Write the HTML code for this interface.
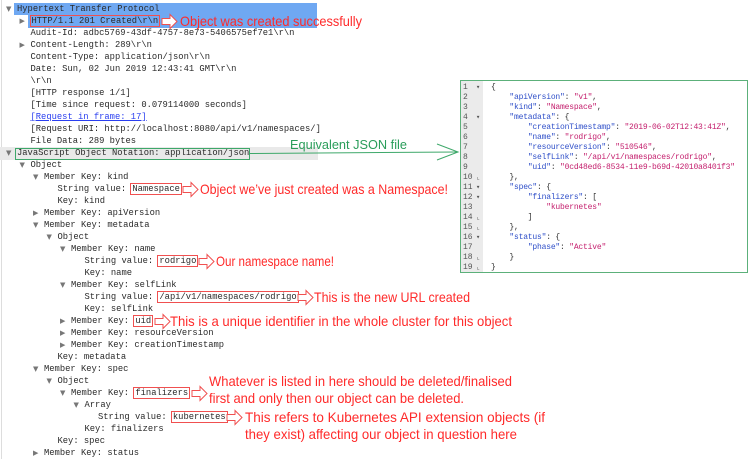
<!DOCTYPE html>
<html><head><meta charset="utf-8"><style>
html,body{margin:0;padding:0;background:#fff;width:750px;height:459px;overflow:hidden;position:relative}
.t{position:absolute;font:8.8px/12px "Liberation Mono",monospace;color:#2a2a2a;white-space:pre}
.b{outline:1px solid #f05050;outline-offset:0px;padding:0 1px}
.tri{position:absolute;font:7px/12px "DejaVu Sans",sans-serif;color:#777}
.j{position:absolute;font:8px/10px "Liberation Mono",monospace;white-space:pre;color:#333}
.n{position:absolute;font:8px/10px "Liberation Mono",monospace;color:#555}
.k{color:#2f4fc8}.s{color:#c4206e}
</style></head><body>
<div style="position:absolute;left:1px;top:0;width:1px;height:459px;background:#ddd"></div>
<div style="position:absolute;left:14px;top:3px;width:303px;height:12px;background:#6fa8f2"></div>
<div style="position:absolute;left:28px;top:15px;width:289px;height:13px;background:#6fa8f2"></div>
<div style="position:absolute;left:0;top:147px;width:318px;height:13px;background:#e9e9e9"></div>

<div id="tree"></div>
<script>
var L=[
[0,'d',"Hypertext Transfer Protocol"],
[1,'r',"<span class=b>HTTP/1.1 201 Created\\r\\n</span>"],
[1,'',"Audit-Id: adbc5769-43df-4757-8e73-5406575ef7e1\\r\\n"],
[1,'r',"Content-Length: 289\\r\\n"],
[1,'',"Content-Type: application/json\\r\\n"],
[1,'',"Date: Sun, 02 Jun 2019 12:43:41 GMT\\r\\n"],
[1,'',"\\r\\n"],
[1,'',"[HTTP response 1/1]"],
[1,'',"[Time since request: 0.079114000 seconds]"],
[1,'L',"[Request in frame: 17]"],
[1,'',"[Request URI: http://localhost:8080/api/v1/namespaces/]"],
[1,'',"File Data: 289 bytes"],
[0,'d',"JavaScript Object Notation: application/json"],
[1,'d',"Object"],
[2,'d',"Member Key: kind"],
[3,'',"String value: <span class=b>Namespace</span>"],
[3,'',"Key: kind"],
[2,'r',"Member Key: apiVersion"],
[2,'d',"Member Key: metadata"],
[3,'d',"Object"],
[4,'d',"Member Key: name"],
[5,'',"String value: <span class=b>rodrigo</span>"],
[5,'',"Key: name"],
[4,'d',"Member Key: selfLink"],
[5,'',"String value: <span class=b>/api/v1/namespaces/rodrigo</span>"],
[5,'',"Key: selfLink"],
[4,'r',"Member Key: <span class=b>uid</span>"],
[4,'r',"Member Key: resourceVersion"],
[4,'r',"Member Key: creationTimestamp"],
[3,'',"Key: metadata"],
[2,'d',"Member Key: spec"],
[3,'d',"Object"],
[4,'d',"Member Key: <span class=b>finalizers</span>"],
[5,'d',"Array"],
[6,'',"String value: <span class=b>kubernetes</span>"],
[5,'',"Key: finalizers"],
[3,'',"Key: spec"],
[2,'r',"Member Key: status"]];
var h='';
for(var i=0;i<L.length;i++){var x=17+L[i][0]*13.5,y=3.3+12*i;
if(L[i][1]=='d'||L[i][1]=='r')h+='<div class="tri" style="left:'+(x-11)+'px;top:'+y+'px">'+(L[i][1]=='d'?'▼':'▶')+'</div>';
var st=L[i][1]=='L'?'color:#2a3ff0;text-decoration:underline;':'';
h+='<div class="t" style="left:'+x+'px;top:'+y+'px;'+st+'">'+L[i][2]+'</div>';}
document.getElementById('tree').innerHTML=h;
</script>

<div style="position:absolute;left:460px;top:80px;width:286px;height:191px;border:1px solid #5cb07a;background:#fff"></div>
<div style="position:absolute;left:461px;top:81px;width:22px;height:191px;background:#ebebeb"></div>
<div id="js"></div>
<script>
var J=[
['▾',"{"],
['',"    <span class=k>\"apiVersion\"</span>: <span class=s>\"v1\"</span>,"],
['',"    <span class=k>\"kind\"</span>: <span class=s>\"Namespace\"</span>,"],
['▾',"    <span class=k>\"metadata\"</span>: {"],
['',"        <span class=k>\"creationTimestamp\"</span>: <span class=s>\"2019-06-02T12:43:41Z\"</span>,"],
['',"        <span class=k>\"name\"</span>: <span class=s>\"rodrigo\"</span>,"],
['',"        <span class=k>\"resourceVersion\"</span>: <span class=s>\"510546\"</span>,"],
['',"        <span class=k>\"selfLink\"</span>: <span class=s>\"/api/v1/namespaces/rodrigo\"</span>,"],
['',"        <span class=k>\"uid\"</span>: <span class=s>\"0cd48ed6-8534-11e9-b69d-42010a8401f3\"</span>"],
['⌞',"    },"],
['▾',"    <span class=k>\"spec\"</span>: {"],
['▾',"        <span class=k>\"finalizers\"</span>: ["],
['',"            <span class=s>\"kubernetes\"</span>"],
['⌞',"        ]"],
['⌞',"    },"],
['▾',"    <span class=k>\"status\"</span>: {"],
['',"        <span class=k>\"phase\"</span>: <span class=s>\"Active\"</span>"],
['⌞',"    }"],
['⌞',"}"]];
var g='';
for(var i=0;i<J.length;i++){var y=82.7+10*i;
g+='<div class="n" style="left:463px;top:'+y+'px">'+(i+1)+'</div>';
if(J[i][0])g+='<div class="n" style="left:476px;top:'+y+'px;font-size:7px">'+J[i][0]+'</div>';
g+='<div class="j" style="left:491px;top:'+y+'px;letter-spacing:-0.2px">'+J[i][1]+'</div>';}
document.getElementById('js').innerHTML=g;
</script>

<svg width="750" height="459" style="position:absolute;left:0;top:0" font-family="Liberation Sans, sans-serif">
<g fill="#fff" stroke="#f05050" stroke-width="1">
<path d="M0,-3 L8,-3 L8,-7 L15,0 L8,7 L8,3 L0,3 Z" transform="translate(162,21.5)"/>
<path d="M0,-3 L8,-3 L8,-7 L15,0 L8,7 L8,3 L0,3 Z" transform="translate(183,189.5)"/>
<path d="M0,-3 L8,-3 L8,-7 L15,0 L8,7 L8,3 L0,3 Z" transform="translate(199,261.5)"/>
<path d="M0,-3 L8,-3 L8,-7 L15,0 L8,7 L8,3 L0,3 Z" transform="translate(298,297.5)"/>
<path d="M0,-3 L8,-3 L8,-7 L15,0 L8,7 L8,3 L0,3 Z" transform="translate(155,321.5)"/>
<path d="M0,-3 L8,-3 L8,-7 L15,0 L8,7 L8,3 L0,3 Z" transform="translate(192,393.5)"/>
<path d="M0,-3 L8,-3 L8,-7 L15,0 L8,7 L8,3 L0,3 Z" transform="translate(227,417.5)"/>
</g>
<g fill="#ff2a2a" font-size="14">
<text x="180" y="26" textLength="182" lengthAdjust="spacingAndGlyphs">Object was created successfully</text>
<text x="200" y="194" textLength="248" lengthAdjust="spacingAndGlyphs">Object we’ve just created was a Namespace!</text>
<text x="216" y="266" textLength="118" lengthAdjust="spacingAndGlyphs">Our namespace name!</text>
<text x="314" y="302" textLength="156" lengthAdjust="spacingAndGlyphs">This is the new URL created</text>
<text x="170" y="326" textLength="342" lengthAdjust="spacingAndGlyphs">This is a unique identifier in the whole cluster for this object</text>
<text x="209" y="386" textLength="303" lengthAdjust="spacingAndGlyphs">Whatever is listed in here should be deleted/finalised</text>
<text x="209" y="403" textLength="255" lengthAdjust="spacingAndGlyphs">first and only then our object can be deleted.</text>
<text x="245" y="422" textLength="300" lengthAdjust="spacingAndGlyphs">This refers to Kubernetes API extension objects (if</text>
<text x="245" y="439" textLength="272" lengthAdjust="spacingAndGlyphs">they exist) affecting our object in question here</text>
</g>
<g stroke="#3ea86a" fill="none" stroke-width="1">
<rect x="15.5" y="148.5" width="234" height="11"/>
<path d="M249.5,153.5 L458,152"/>
<path d="M437,144 L458,152 L437,160"/>
</g>
<text x="290" y="149" fill="#2a9d5a" font-size="13" textLength="117" lengthAdjust="spacingAndGlyphs">Equivalent JSON file</text>
</svg>
</body></html>
